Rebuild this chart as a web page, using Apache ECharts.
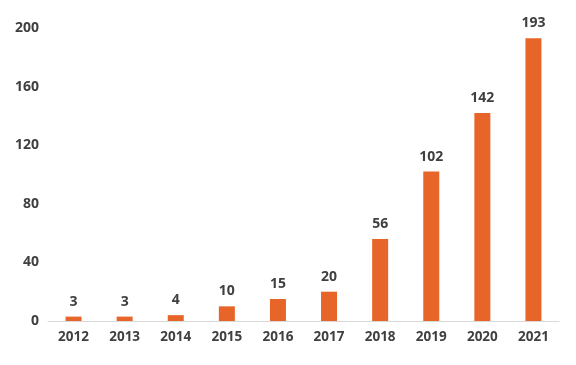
<!DOCTYPE html>
<html><head><meta charset="utf-8">
<script src="https://cdn.jsdelivr.net/npm/echarts@6/dist/echarts.min.js"></script>
<style>html,body{margin:0;padding:0;background:#fff}#c{width:576px;height:365px}</style>
</head><body><div id="c"></div>
<script>
const categories = ['2012','2013','2014','2015','2016','2017','2018','2019','2020','2021'];
const values = [3,3,4,10,15,20,56,102,142,193];
const yTicks = [0,40,80,120,160,200];

const chart = echarts.init(document.getElementById('c'));
const font = '"Open Sans", "Noto Sans", sans-serif';
chart.setOption({
  animation: false,
  backgroundColor: '#fff',
  grid: {left: 48, right: 17, top: 28, bottom: 44},
  xAxis: {
    type: 'category', data: categories,
    axisLine: {lineStyle: {color: '#d9d9d9', width: 1}},
    axisTick: {show: false},
    axisLabel: {color: '#404040', fontSize: 13.5, fontWeight: 'bold', fontFamily: font, margin: 9}
  },
  yAxis: {
    type: 'value', min: yTicks[0], max: yTicks[yTicks.length-1], interval: 40,
    axisLine: {show: false}, axisTick: {show: false}, splitLine: {show: false},
    axisLabel: {color: '#404040', fontSize: 14, fontWeight: 'bold', fontFamily: font, margin: 9}
  },
  series: [{
    type: 'bar', data: values, barWidth: 16,
    itemStyle: {color: '#E8652A'},
    label: {show: true, position: 'top', distance: 8, color: '#404040', fontSize: 14, fontWeight: 'bold', fontFamily: font}
  }]
});
</script></body></html>
